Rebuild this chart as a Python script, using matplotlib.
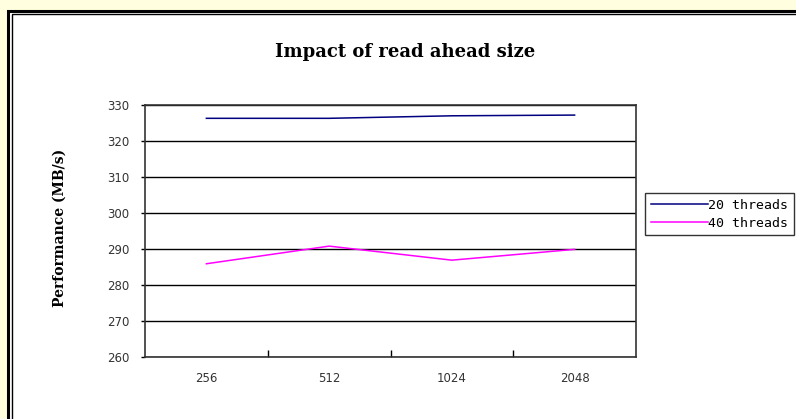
import matplotlib
matplotlib.use("Agg")
import matplotlib.pyplot as plt
from matplotlib.patches import Rectangle

categories = ["256", "512", "1024", "2048"]
threads_20 = [326.3, 326.3, 327.0, 327.2]
threads_40 = [285.9, 290.8, 286.9, 289.9]
y_ticks = [260, 270, 280, 290, 300, 310, 320, 330]

W, H = 796, 419
fig = plt.figure(figsize=(W / 100, H / 100), dpi=100)
fig.patch.set_facecolor("#FFFFE0")

# Page frame: white sheet with a double black border
bg = fig.add_axes([0, 0, 1, 1], zorder=-5)
bg.set_xlim(0, W)
bg.set_ylim(H, 0)
bg.axis("off")
bg.add_patch(Rectangle((8, 11), W, H, facecolor="white", edgecolor="black", linewidth=2.2))
bg.add_patch(Rectangle((11.5, 14.5), W, H, facecolor="none", edgecolor="black", linewidth=1.0))

# Plot area in pixel coordinates
left, right, top, bottom = 145, 636, 105, 357
ax = fig.add_axes([left / W, 1 - bottom / H, (right - left) / W, (bottom - top) / H])
ax.set_facecolor("white")

x = list(range(len(categories)))
ax.plot(x, threads_20, color="#000080", linewidth=1.1, label="20 threads")
ax.plot(x, threads_40, color="#FF00FF", linewidth=1.1, label="40 threads")

ax.set_xlim(-0.5, len(categories) - 0.5)
ax.set_ylim(260, 330)
ax.set_yticks(y_ticks)
ax.set_yticklabels([str(v) for v in y_ticks], fontsize=8.5, color="#333333",
                   family="DejaVu Sans")
ax.grid(axis="y", color="black", linewidth=1.0)
ax.set_axisbelow(True)

# Category labels sit between boundary ticks
ax.set_xticks([i + 0.5 for i in x[:-1]])
ax.set_xticklabels([])
ax.set_xticks(x, minor=True)
ax.set_xticklabels(categories, minor=True, fontsize=8.5, color="#333333",
                   family="DejaVu Sans")
ax.tick_params(axis="x", which="major", direction="in", length=5, width=1.0, color="black")
ax.tick_params(axis="x", which="minor", length=0, pad=11)
ax.tick_params(axis="y", direction="out", length=3, width=1.0, color="black", pad=8)

for s in ax.spines.values():
    s.set_color("#333333")
    s.set_linewidth(1.2)

fig.text(405 / W, 1 - 52 / H, "Impact of read ahead size", ha="center", va="center",
         fontsize=13, fontweight="bold", family="DejaVu Serif")
fig.text(60 / W, 1 - 228 / H, "Performance (MB/s)", ha="center", va="center",
         rotation=90, fontsize=10, fontweight="bold", family="DejaVu Serif")

leg = ax.legend(loc="upper left", bbox_to_anchor=((645 - left) / (right - left), 1 - (193 - top) / (bottom - top)),
                frameon=True, fancybox=False, edgecolor="black",
                prop={"family": "DejaVu Sans Mono", "size": 9.5},
                handlelength=4.3, handletextpad=0.0, borderpad=0.45,
                labelspacing=0.35, borderaxespad=0)
leg.get_frame().set_linewidth(1.0)

fig.savefig("out.png", dpi=100, facecolor=fig.get_facecolor())
